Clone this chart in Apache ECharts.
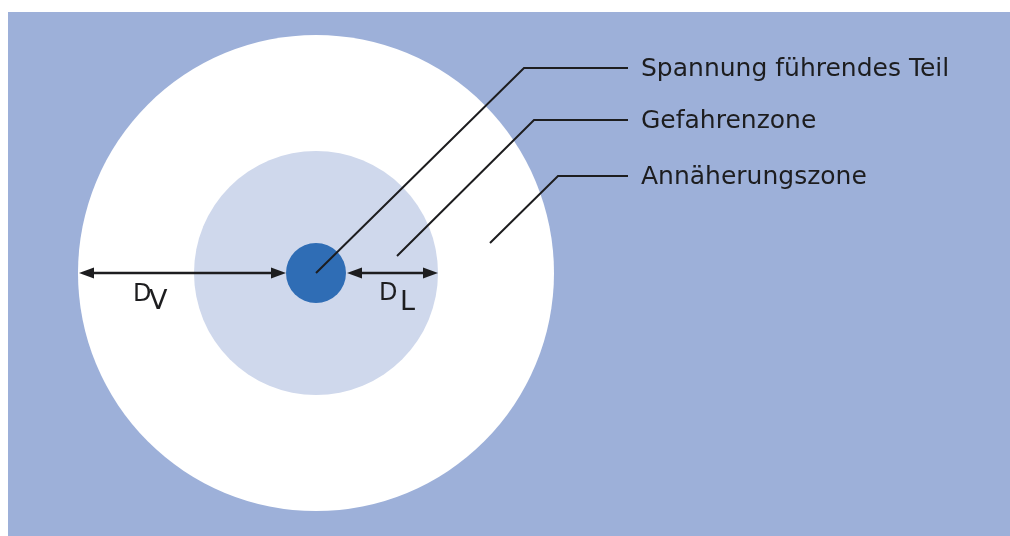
<!DOCTYPE html>
<html>
<head>
<meta charset="utf-8">
<script src="https://cdn.jsdelivr.net/npm/echarts@6/dist/echarts.min.js"></script>
<style>html,body{margin:0;padding:0;background:#fff}#c{width:1010px;height:536px}</style>
</head>
<body>
<div id="c"></div>
<script>
// ---- data (diagram units = reference pixels) ----
const panel = [8, 12, 1010, 536];                 // x0, y0, x1, y1 of the blue panel
const center = [316, 273];
const zoneNames = ['Annäherungszone', 'Gefahrenzone', 'Spannung führendes Teil'];
const zoneRadii = [238, 122, 30];
const labels = ['Spannung führendes Teil', 'Gefahrenzone', 'Annäherungszone'];
const leaderStart = [[316, 273], [397, 256], [490, 243]];
const leaderCorner = [[524, 68], [534, 120], [558, 176]];
const leaderEnd = [[628, 68], [628, 120], [628, 176]];
const labelPos = [[641, 68], [641, 120], [641, 176]];  // text left, cap-centre
const dimNames = ['V', 'L'];
const dimArrows = [[79, 273, 286, 273], [347, 273, 438, 273]];
const dimMainPos = [[133, 293], [379, 292]];   // left, cap-centre
const dimSubPos = [[149, 300], [400, 301]];

const FONT = '"DejaVu Sans", "Noto Sans", sans-serif';
const zoneColors = ['#ffffff', '#cfd8ec', '#2f6db5'];
const INK = '#1d1d1f';
const CAPSHIFT = 1.5;   // middle-of-em vs. middle-of-caps offset

const chart = echarts.init(document.getElementById('c'), null, {renderer: 'canvas'});

function arrowHead(tip, dir) {
  const L = 15, W = 5.5;
  const bx = tip[0] - dir * L;
  return {type: 'polygon', shape: {points: [tip, [bx, tip[1] - W], [bx, tip[1] + W]]},
          style: {fill: INK}};
}
function txt(pt, s, size) {
  return {type: 'text', x: pt[0], y: pt[1] + CAPSHIFT, style: {text: s, font: '400 ' + size + 'px ' + FONT,
          fill: INK, align: 'left', verticalAlign: 'middle'}};
}

chart.setOption({
  animation: false,
  backgroundColor: '#ffffff',
  grid: {left: 0, right: 0, top: 0, bottom: 0},
  xAxis: {type: 'value', min: 0, max: 1010, show: false},
  yAxis: {type: 'value', min: 0, max: 536, inverse: true, show: false},
  series: [
    {
      type: 'custom', name: 'panel', silent: true,
      data: [panel],
      renderItem: (p, api) => {
        const a = api.coord([api.value(0), api.value(1)]);
        const b = api.coord([api.value(2), api.value(3)]);
        return {type: 'rect', shape: {x: a[0], y: a[1], width: b[0] - a[0], height: b[1] - a[1]},
                style: {fill: '#9db0d9'}};
      }
    },
    {
      type: 'custom', name: 'zones', silent: true,
      data: zoneRadii.map((r, i) => ({name: zoneNames[i], value: [center[0], center[1], r]})),
      renderItem: (p, api) => {
        const c = api.coord([api.value(0), api.value(1)]);
        const r = api.size([api.value(2), 0])[0];
        return {type: 'circle', shape: {cx: c[0], cy: c[1], r: r}, style: {fill: zoneColors[p.dataIndex]}};
      }
    },
    {
      type: 'custom', name: 'dimensions', silent: true,
      data: dimArrows,
      renderItem: (p, api) => {
        const a = api.coord([api.value(0), api.value(1)]);
        const b = api.coord([api.value(2), api.value(3)]);
        const i = p.dataIndex;
        return {type: 'group', children: [
          {type: 'line', shape: {x1: a[0] + 8, y1: a[1], x2: b[0] - 8, y2: b[1]},
           style: {stroke: INK, lineWidth: 2.5}},
          arrowHead(a, -1),
          arrowHead(b, 1),
          txt(api.coord(dimMainPos[i]), 'D', 24),
          txt(api.coord(dimSubPos[i]), dimNames[i], 27)
        ]};
      }
    },
    {
      type: 'custom', name: 'leaders', silent: true,
      data: labels.map((l, i) => ({name: l, value: [i]})),
      renderItem: (p, api) => {
        const i = p.dataIndex;
        const pts = [api.coord(leaderStart[i]), api.coord(leaderCorner[i]), api.coord(leaderEnd[i])];
        return {type: 'group', children: [
          {type: 'polyline', shape: {points: pts}, style: {stroke: INK, lineWidth: 2, fill: null}},
          txt(api.coord(labelPos[i]), labels[i], 25)
        ]};
      }
    }
  ]
});
</script>
</body>
</html>
